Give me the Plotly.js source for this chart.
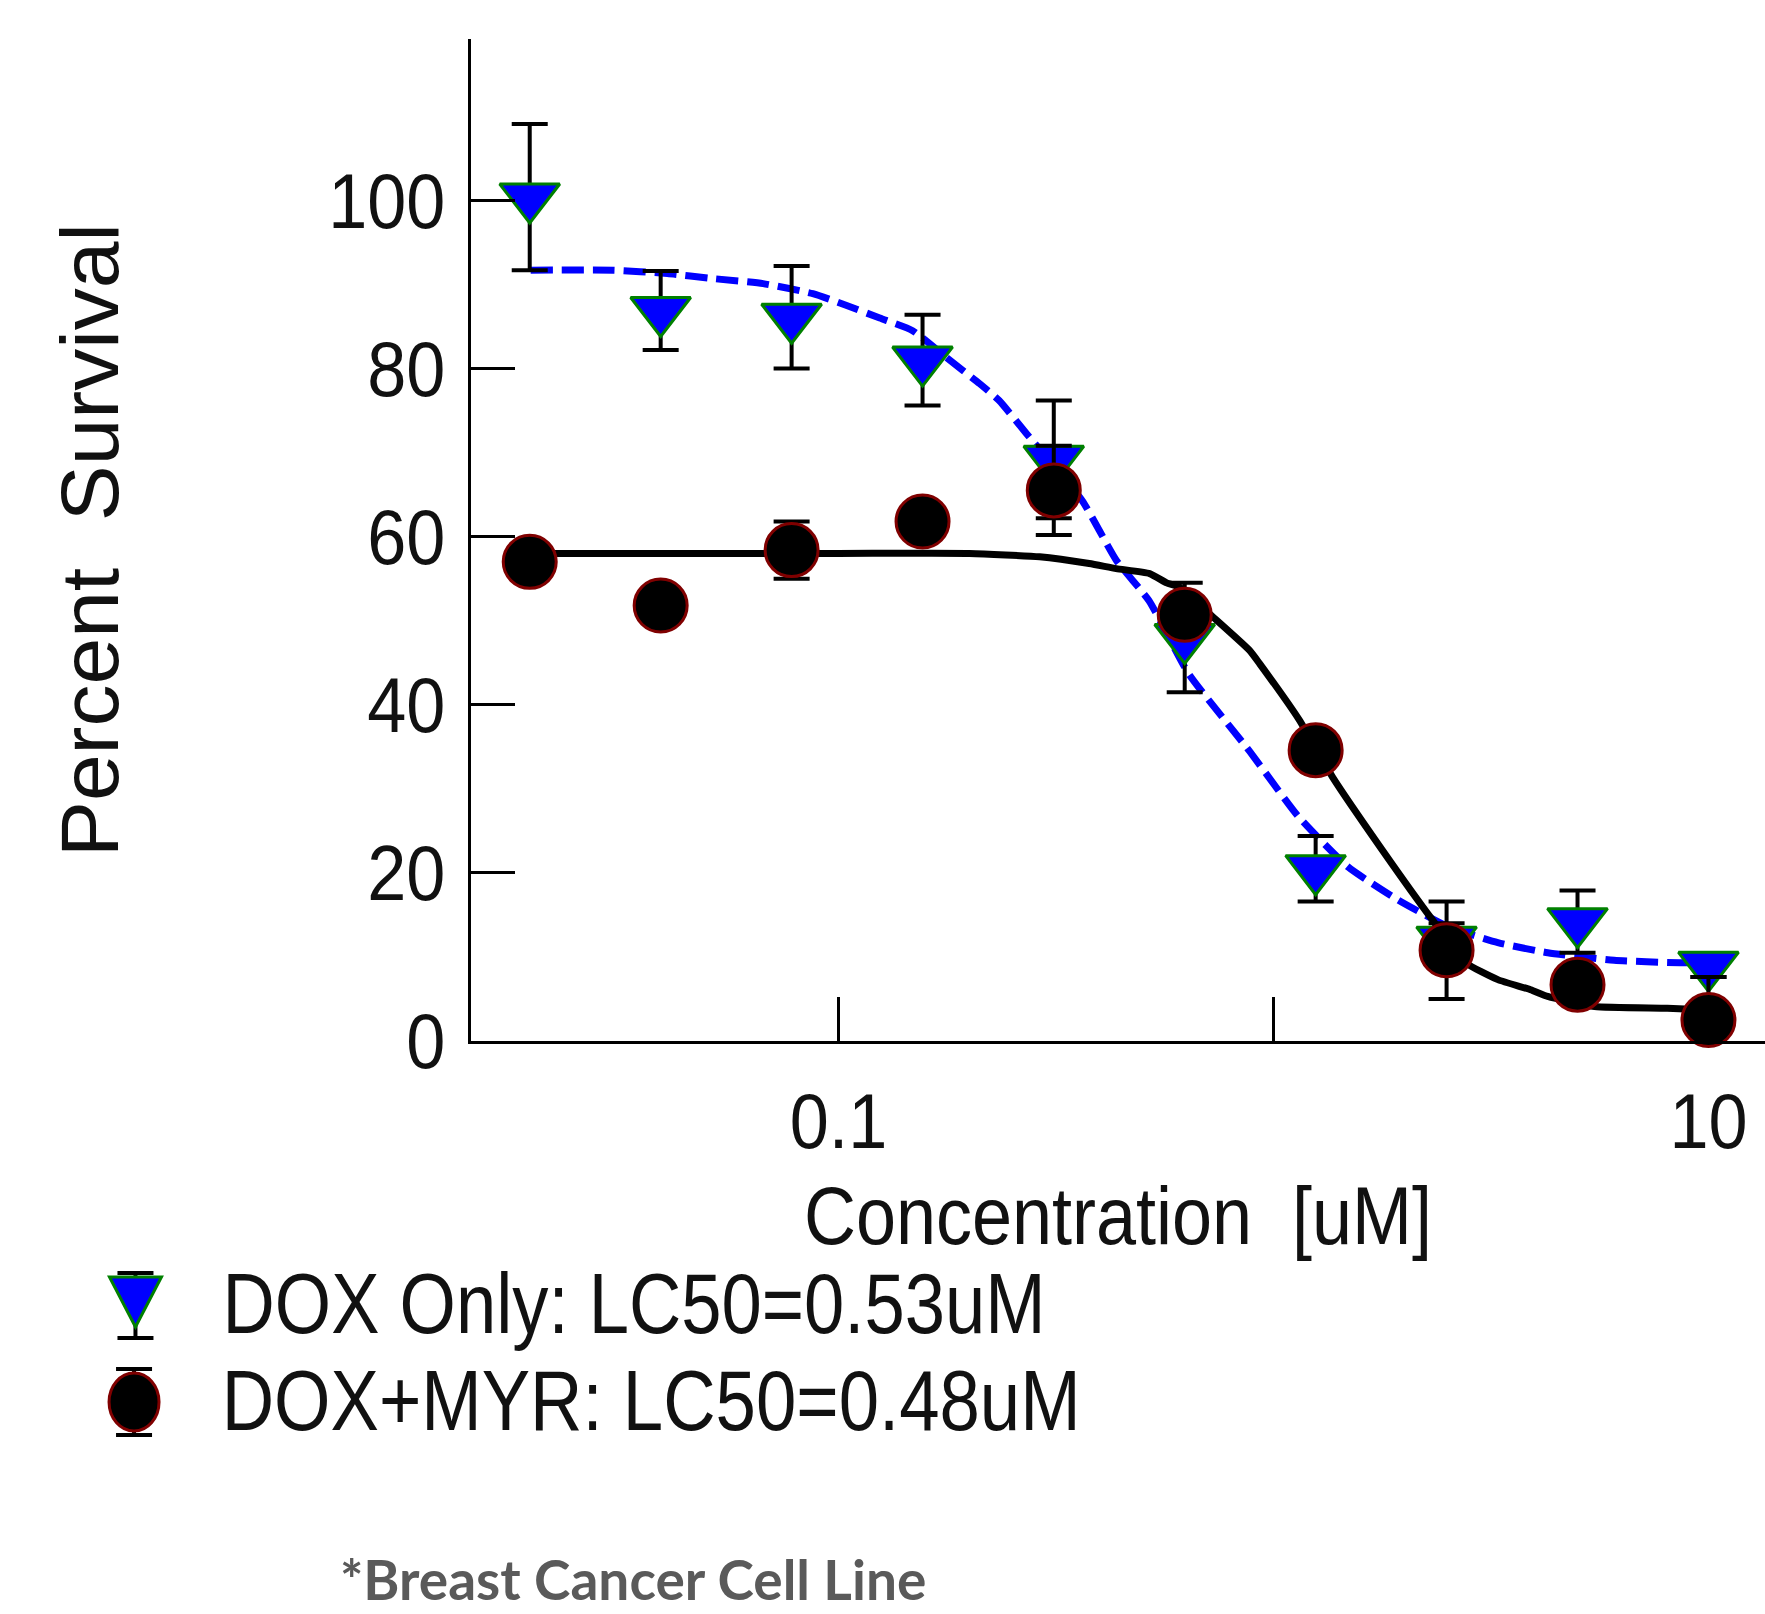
<!DOCTYPE html>
<html>
<head>
<meta charset="utf-8">
<script src="https://cdn.plot.ly/plotly-3.0.1.min.js"></script>
<style>html,body{margin:0;padding:0;background:#fff;}</style>
</head>
<body>
<div id="chart" style="width:1765px;height:1614px;"></div>
<script>
// ---- data ----
const concentration = [0.0195, 0.039, 0.078, 0.156, 0.3125, 0.625, 1.25, 2.5, 5, 10];

const doxOnly      = [100.4, 86.9, 86.1, 81.0, 69.2, 48.0, 20.5, 12.0, 14.2, 9.0];
const doxOnlyErr   = [8.7, 4.7, 6.1, 5.4, 7.0, 6.5, 3.9, 2.0, 3.7, 1.4];

const doxMyr          = [57.0, 51.8, 58.4, 61.8, 65.5, 50.7, 34.6, 10.8, 6.7, 2.5];
const doxMyrErrPlus   = [2.0, 2.0, 3.4, 2.0, 5.3, 2.0, 2.0, 5.8, 2.0, 5.1];
const doxMyrErrMinus  = [2.0, 2.0, 3.4, 2.0, 5.3, 2.0, 2.0, 5.8, 2.0, 2.5];

// fitted curves, points
const fitDoxX = [0.0196, 0.0304, 0.0404, 0.0515, 0.0671, 0.0873, 0.1044, 0.1244, 0.148, 0.177, 0.211, 0.234, 0.270, 0.363, 0.435, 0.517, 0.638, 0.877, 1.141, 1.485, 1.93, 2.52, 3.28, 4.27, 6.07, 8.6, 10];
const fitDoxY = [91.7, 91.7, 91.3, 90.7, 90.1, 88.9, 87.5, 86.0, 84.5, 81.3, 78.2, 76.2, 72.3, 64.3, 57.2, 52.4, 43.7, 34.6, 26.7, 20.7, 16.8, 13.6, 11.7, 10.5, 9.6, 9.3, 9.3];

const fitMyrX = [0.0196, 0.1, 0.2, 0.29, 0.377, 0.435, 0.519, 0.568, 0.607, 0.724, 0.880, 0.929, 1.146, 1.367, 1.78, 2.32, 2.77, 3.28, 3.90, 4.27, 5.47, 8.04, 10];
const fitMyrY = [58.0, 58.0, 58.0, 57.6, 56.8, 56.2, 55.6, 54.5, 54.0, 50.5, 46.5, 44.9, 38.2, 31.4, 22.7, 14.4, 9.3, 7.3, 6.1, 5.3, 4.1, 3.9, 3.7];

const yTickVals = [0, 20, 40, 60, 80, 100];
const xTickVals = [0.1, 1, 10];
const xTickText = ['0.1', '', '10'];

const seriesNames = ['DOX Only: LC50=0.53uM', 'DOX+MYR: LC50=0.48uM'];
const xTitle = 'Concentration\u00a0 [uM]';
const yTitle = 'Percent\u00a0 Survival';
const footnote = '*Breast Cancer Cell Line';

// ---- styles ----
const BLUE = '#0000ff', GREEN = '#008000', DARKRED = '#800000';
const FONT = 'Liberation Sans, Arial, sans-serif';

const traces = [
  {
    type: 'scatter', mode: 'lines', x: fitDoxX, y: fitDoxY,
    line: {color: BLUE, width: 7, dash: '22px,9px', shape: 'spline', smoothing: 0.5},
    hoverinfo: 'skip', showlegend: false, cliponaxis: false
  },
  {
    type: 'scatter', mode: 'markers', name: seriesNames[0], x: concentration, y: doxOnly,
    error_y: {type: 'data', array: doxOnlyErr, visible: true, color: '#000', thickness: 4, width: 18},
    marker: {symbol: 'triangle-down', size: 52, color: BLUE, line: {color: GREEN, width: 3}},
    cliponaxis: false
  },
  {
    type: 'scatter', mode: 'lines', x: fitMyrX, y: fitMyrY,
    line: {color: '#000', width: 7, shape: 'spline', smoothing: 0.5},
    hoverinfo: 'skip', showlegend: false, cliponaxis: false
  },
  {
    type: 'scatter', mode: 'markers', name: seriesNames[1], x: concentration, y: doxMyr,
    error_y: {type: 'data', symmetric: false, array: doxMyrErrPlus, arrayminus: doxMyrErrMinus,
              visible: true, color: '#000', thickness: 4, width: 18},
    marker: {symbol: 'circle', size: 53, color: '#000', line: {color: DARKRED, width: 3}},
    cliponaxis: false
  }
];

// legend glyphs (pixel-sized, anchored in paper space)
function legendGlyph(ax, ay, kind) {
  const base = {xref: 'paper', yref: 'paper', xsizemode: 'pixel', ysizemode: 'pixel', xanchor: ax, yanchor: ay};
  const top = kind === 'tri' ? 29 : 33, bot = kind === 'tri' ? -36 : -33;
  const s = [
    Object.assign({type: 'path', path: `M0,${top} L0,${bot}`, line: {color: '#000', width: 4}}, base),
    Object.assign({type: 'path', path: `M-18,${top} L18,${top}`, line: {color: '#000', width: 4}}, base),
    Object.assign({type: 'path', path: `M-18,${bot} L18,${bot}`, line: {color: '#000', width: 4}}, base)
  ];
  if (kind === 'tri') {
    s.push(Object.assign({type: 'path', path: 'M-26,25 L26,25 L0,-25 Z', fillcolor: BLUE, line: {color: GREEN, width: 3}}, base));
  } else {
    s.push(Object.assign({type: 'circle', x0: -25, x1: 25, y0: -29, y1: 29, fillcolor: '#000', line: {color: DARKRED, width: 3}}, base));
  }
  return s;
}

const shapes = [].concat(legendGlyph(-0.2593, -0.2605, 'tri'), legendGlyph(-0.2604, -0.3603, 'circ'));

const annotations = [
  {xref: 'paper', yref: 'paper', x: 0.1256, y: -0.2615, xanchor: 'center', yanchor: 'middle', showarrow: false,
   text: seriesNames[0], font: {family: FONT, size: 85, color: '#111'}},
  {xref: 'paper', yref: 'paper', x: 0.1391, y: -0.3583, xanchor: 'center', yanchor: 'middle', showarrow: false,
   text: seriesNames[1], font: {family: FONT, size: 85, color: '#111'}},
  {xref: 'paper', yref: 'paper', x: 0.1250, y: -0.5719, xanchor: 'center', yanchor: 'bottom', showarrow: false,
   text: '<b>' + footnote + '</b>', font: {family: 'Lato, Noto Sans, sans-serif', size: 55, color: '#5a5a5a'}}
];

const layout = {
  width: 1765, height: 1614,
  margin: {l: 471, r: 0, t: 39, b: 573, pad: 0},
  paper_bgcolor: '#fff', plot_bgcolor: '#fff',
  showlegend: false,
  xaxis: {
    type: 'log', range: [-1.845, 1.130], automargin: false,
    showline: true, linecolor: '#000', linewidth: 3, mirror: false,
    showgrid: false, zeroline: false,
    ticks: 'inside', ticklen: 44, tickwidth: 3, tickcolor: '#000',
    tickmode: 'array', tickvals: xTickVals, ticktext: xTickText,
    tickfont: {family: FONT, size: 78, color: '#111'}, ticklabelstandoff: 10,
    title: {text: xTitle, font: {family: FONT, size: 82, color: '#111'}, standoff: 24}
  },
  yaxis: {
    range: [0, 119.2], automargin: false,
    showline: true, linecolor: '#000', linewidth: 3, mirror: false,
    showgrid: false, zeroline: false,
    ticks: 'inside', ticklen: 44, tickwidth: 3, tickcolor: '#000',
    tickmode: 'array', tickvals: yTickVals,
    tickfont: {family: FONT, size: 78, color: '#111'}, ticklabelstandoff: 7,
    title: {text: yTitle, font: {family: FONT, size: 81, color: '#111'}, standoff: 170}
  },
  shapes: shapes,
  annotations: annotations
};

// the reference's lettering is horizontally condensed: fit texts to its measured widths
const condensedWidths = [
  ['.annotation[data-index="0"] text.annotation-text', 823],
  ['.annotation[data-index="1"] text.annotation-text', 859],
  ['text.xtitle', 628],
  ['text.ytitle', 634]
];
function condense(gd) {
  condensedWidths.forEach(([sel, w]) => {
    const el = gd.querySelector(sel);
    if (el) { el.setAttribute('textLength', w); el.setAttribute('lengthAdjust', 'spacingAndGlyphs'); }
  });
  gd.querySelectorAll('.xtick text, .ytick text').forEach(el => {
    if (el.getAttribute('data-cond')) return;
    const w = el.getComputedTextLength();
    if (w > 0) {
      el.setAttribute('textLength', (w * 0.9).toFixed(1));
      el.setAttribute('lengthAdjust', 'spacingAndGlyphs');
      el.setAttribute('data-cond', '1');
    }
  });
}

Plotly.newPlot('chart', traces, layout, {displayModeBar: false, staticPlot: true}).then(gd => {
  condense(gd);
  setTimeout(() => condense(gd), 50);
});
</script>
</body>
</html>
